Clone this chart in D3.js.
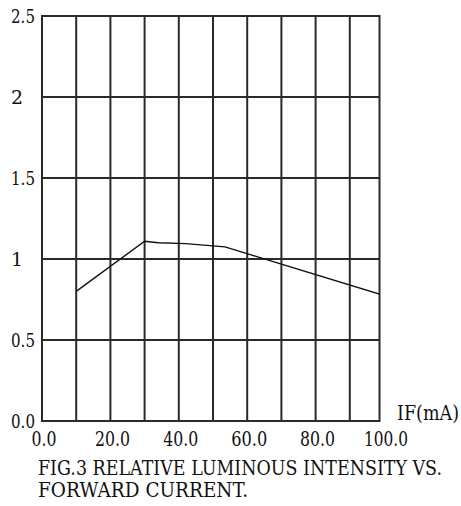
<!DOCTYPE html>
<html>
<head>
<meta charset="utf-8">
<script src="https://cdn.jsdelivr.net/npm/d3@7"></script>
<style>
html,body{margin:0;padding:0;background:#fff;}
svg{display:block;}
</style>
</head>
<body>
<svg id="chart" width="461" height="506"></svg>
<script>
// ---- data ----
const currentMA = [10, 30, 34, 42, 53.5, 100];
const relIntensity = [0.80, 1.11, 1.10, 1.095, 1.075, 0.775];
const xTickValues = [0, 20, 40, 60, 80, 100];
const xTickLabels = ["0.0", "20.0", "40.0", "60.0", "80.0", "100.0"];
const xGridValues = [10, 20, 30, 40, 50, 60, 70, 80, 90];
const yTickValues = [0, 0.5, 1, 1.5, 2, 2.5];
const yTickLabels = ["0.0", "0.5", "1", "1.5", "2", "2.5"];
const xAxisTitle = "IF(mA)";
const captionLines = ["FIG.3 RELATIVE LUMINOUS INTENSITY VS.", "FORWARD CURRENT."];

// ---- layout ----
const FONT = "'DejaVu Serif', 'Noto Serif', 'Liberation Serif', serif";
const svg = d3.select("#chart");
const mLeft = 42, mTop = 16, mBottom = 421, frameRight = 379.5;
const x = d3.scaleLinear().domain([0, 100]).range([mLeft, 384]);
const y = d3.scaleLinear().domain([0, 2.5]).range([mBottom, mTop]);
const gridColor = "#2a2a2a";

svg.append("clipPath").attr("id", "plotclip")
  .append("rect").attr("x", mLeft).attr("y", mTop)
  .attr("width", frameRight - mLeft).attr("height", mBottom - mTop);

svg.append("g").selectAll("line").data(xGridValues).join("line")
  .attr("x1", d => x(d)).attr("x2", d => x(d))
  .attr("y1", mTop).attr("y2", mBottom)
  .attr("stroke", gridColor).attr("stroke-width", 2);

svg.append("g").selectAll("line").data(yTickValues.filter(v => v > 0 && v < 2.5)).join("line")
  .attr("x1", mLeft).attr("x2", frameRight)
  .attr("y1", d => y(d)).attr("y2", d => y(d))
  .attr("stroke", gridColor).attr("stroke-width", 2);

svg.append("rect")
  .attr("x", mLeft).attr("y", mTop)
  .attr("width", frameRight - mLeft).attr("height", mBottom - mTop)
  .attr("fill", "none").attr("stroke", gridColor).attr("stroke-width", 2);

const pts = currentMA.map((c, i) => [c, relIntensity[i]]);
svg.append("path")
  .datum(pts)
  .attr("clip-path", "url(#plotclip)")
  .attr("fill", "none").attr("stroke", "#111").attr("stroke-width", 1.4)
  .attr("d", d3.line().x(d => x(d[0])).y(d => y(d[1])));

const txt = svg.append("g").attr("font-family", FONT).attr("fill", "#111");

txt.append("g").selectAll("text").data(yTickValues).join("text")
  .attr("x", 11).attr("y", d => y(d)).attr("dy", "0.35em")
  .attr("font-size", 19)
  .attr("textLength", (d, i) => yTickLabels[i].length > 1 ? 24 : null)
  .attr("lengthAdjust", "spacingAndGlyphs")
  .text((d, i) => yTickLabels[i]);

const xLabelW = [25, 35, 35, 36, 35, 44];
txt.append("g").selectAll("text").data(xTickValues).join("text")
  .attr("x", d => x(d) + 2).attr("y", 446)
  .attr("text-anchor", "middle").attr("font-size", 20)
  .attr("textLength", (d, i) => xLabelW[i])
  .attr("lengthAdjust", "spacingAndGlyphs")
  .text((d, i) => xTickLabels[i]);

txt.append("text").attr("x", 397).attr("y", 420).attr("font-size", 20)
  .attr("textLength", 62).attr("lengthAdjust", "spacingAndGlyphs").text(xAxisTitle);

const capLengths = [404, 210];
txt.append("g").selectAll("text").data(captionLines).join("text")
  .attr("x", 38).attr("y", (d, i) => 475 + i * 22)
  .attr("font-size", 21)
  .attr("textLength", (d, i) => capLengths[i])
  .attr("lengthAdjust", "spacingAndGlyphs")
  .text(d => d);
</script>
</body>
</html>
